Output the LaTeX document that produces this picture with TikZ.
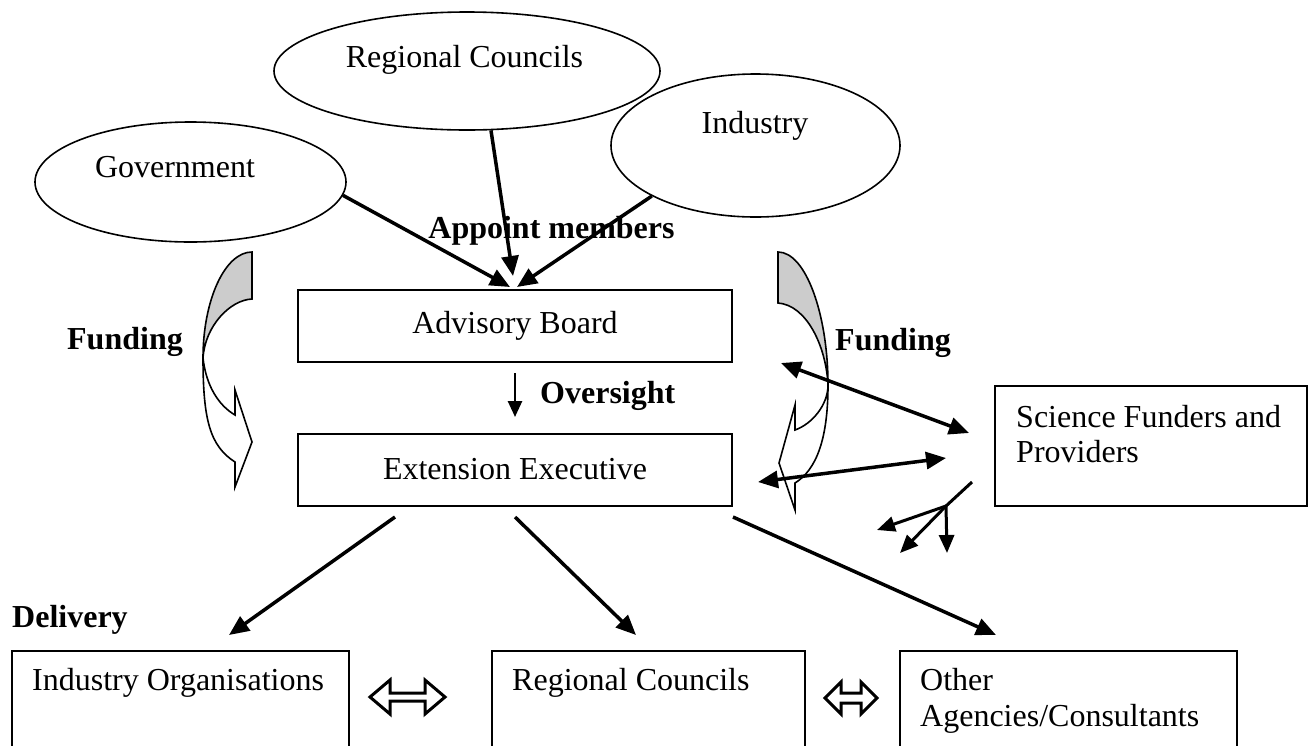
\documentclass[tikz,border=0pt]{standalone}
\usepackage{fontspec}
\setmainfont{Liberation Serif}
\usetikzlibrary{arrows.meta,shapes.geometric}
\definecolor{fundgray}{RGB}{204,204,204}
\begin{document}
\begin{tikzpicture}[x=1pt,y=-1pt,
  txt/.style={inner sep=0pt, font=\fontsize{32}{36}\selectfont},
  btxt/.style={inner sep=0pt, font=\fontsize{32}{36}\selectfont\bfseries},
  oval/.style={draw, ellipse, line width=1.6pt, inner sep=0pt},
  box/.style={draw, rectangle, line width=2pt, inner sep=0pt},
  conn/.style={line width=3.5pt, -{Triangle[length=20pt,width=17pt]}},
  dconn/.style={line width=3.5pt, {Triangle[length=20pt,width=17pt]}-{Triangle[length=20pt,width=17pt]}},
  thinconn/.style={line width=2.6pt, -{Triangle[length=16pt,width=14pt]}},
  brconn/.style={line width=3pt, -{Triangle[length=18pt,width=15pt]}},
  hollow/.style={draw, line width=3pt, fill=white, line join=miter},
  curvefront/.style={draw, line width=1.6pt, fill=white, line join=miter},
  curveback/.style={draw, line width=1.6pt, fill=fundgray, line join=miter}]
\useasboundingbox (0,0) rectangle (1313,745);
\clip (0,0) rectangle (1313,745);

% curved Funding arrows (drawn first)
\path[curveback] (252,252) .. controls (225,252) and (203,300) .. (203,358)
   .. controls (205,326) and (230,300) .. (252,299) -- cycle;
\path[curvefront] (203,358) .. controls (203,420) and (210,446) .. (235,462)
   -- (235,487) -- (252,442) -- (235,390) -- (235,415)
   .. controls (218,405) and (206,385) .. (203,358) -- cycle;
\path[curveback] (778,252) .. controls (806,252) and (828,315) .. (828,385)
   .. controls (826,345) and (806,305) .. (778,303) -- cycle;
\path[curvefront] (828,385) .. controls (828,440) and (816,470) .. (795,483)
   -- (795,510) -- (779,463) -- (795,405) -- (795,430)
   .. controls (812,424) and (828,405) .. (828,385) -- cycle;

% ellipses
\node[oval, minimum width=311pt, minimum height=120pt] (gov) at (190.5,182) {};
\node[oval, minimum width=386pt, minimum height=118pt] (rc) at (467,71) {};
\node[oval, minimum width=289pt, minimum height=143pt] (ind) at (755.5,145.5) {};
\node[txt, anchor=base] (govT) at (175,177) {Government};
\node[txt, anchor=base] (rcT) at (464.5,67) {Regional Councils};
\node[txt, anchor=base] (indT) at (755,133) {Industry};

% labels
\node[btxt, anchor=base] (appT) at (551.5,238) {Appoint members};
\node[btxt, anchor=base west] (ovT) at (540,403) {Oversight};
\node[btxt, anchor=base] (fundL) at (125,349) {Funding};
\node[btxt, anchor=base] (fundR) at (893,350) {Funding};
\node[btxt, anchor=base west] (delT) at (12,627) {Delivery};

% boxes
\node[box, font=\fontsize{32}{36}\selectfont, minimum width=434pt, minimum height=72pt,
      text height=22pt, text depth=7pt] (adv) at (515,326) {Advisory Board};
\node[box, font=\fontsize{32}{36}\selectfont, minimum width=434pt, minimum height=72pt,
      text height=22pt, text depth=4pt] (ext) at (515,470) {Extension Executive};
\node[box, minimum width=312pt, minimum height=120pt] (sf) at (1151,446) {};
\node[txt, anchor=base west] (sfT1) at (1016,427) {Science Funders and};
\node[txt, anchor=base west] (sfT2) at (1016,462) {Providers};

\node[box, anchor=north west, minimum width=337pt, minimum height=130pt] (io) at (11,650) {};
\node[box, anchor=north west, minimum width=313pt, minimum height=130pt] (rcb) at (491,650) {};
\node[box, anchor=north west, minimum width=337pt, minimum height=130pt] (oth) at (899,650) {};
\node[txt, anchor=base west] (ioT) at (32,690) {Industry Organisations};
\node[txt, anchor=base west] (rcbT) at (512,690) {Regional Councils};
\node[txt, anchor=base west] (othT1) at (920,690) {Other};
\node[txt, anchor=base west] (othT2) at (920,726) {Agencies/Consultants};

% appoint members arrows
\draw[conn] (gov.-5) -- ([xshift=-5pt,yshift=2pt]adv.north);
\draw[conn] (rc.-68) -- ([xshift=-2pt,yshift=13pt]adv.north);
\draw[conn] (ind.206) -- ([xshift=2pt,yshift=2pt]adv.north);

% oversight
\draw[thinconn] ([yshift=-10pt]adv.south) -- ([yshift=16pt]ext.north);

% science funders double arrows
\draw[dconn] ([xshift=48pt,yshift=-37pt]adv.east) -- ([xshift=-25pt,yshift=13pt]sf.west);
\draw[dconn] ([xshift=25pt,yshift=-12pt]ext.east) -- ([xshift=-48pt,yshift=-12pt]sf.west);

% branching arrows
\coordinate (brS) at (972,482);
\coordinate (brP) at (946,506);
\coordinate (brA) at (877,530);
\coordinate (brB) at (900,553);
\coordinate (brC) at (947,553);
\draw[line width=3pt] (brS) -- (brP);
\draw[brconn] (brP) -- (brA);
\draw[brconn] (brP) -- (brB);
\draw[brconn] (brP) -- (brC);

% delivery arrows
\draw[conn] ([xshift=-120pt,yshift=-10pt]ext.south) -- ([xshift=48.5pt,yshift=15pt]io.north);
\draw[conn] ([yshift=-10pt]ext.south) -- ([xshift=-12.5pt,yshift=15pt]rcb.north);
\draw[conn] ([yshift=-10pt]ext.south east) -- ([xshift=-72.5pt,yshift=15pt]oth.north);

% hollow double arrows
\path[hollow] (370,697) -- (390,680) -- (390,693) -- (425,693) -- (425,680) -- (445,697)
   -- (425,714) -- (425,701) -- (390,701) -- (390,714) -- cycle;
\path[hollow] (825,698) -- (841,682) -- (841,693) -- (861,693) -- (861,682) -- (877,698)
   -- (861,714) -- (861,703) -- (841,703) -- (841,714) -- cycle;
\end{tikzpicture}
\end{document}
